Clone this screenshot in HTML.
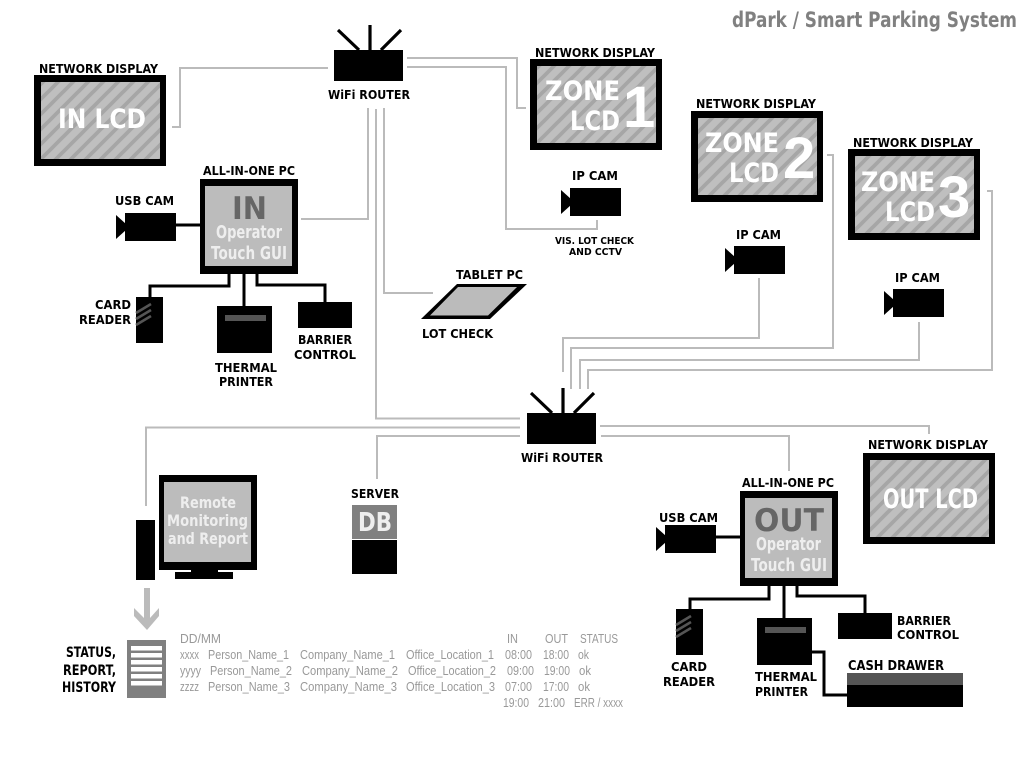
<!DOCTYPE html>
<html><head><meta charset="utf-8"><title>dPark / Smart Parking System</title>
<style>
html,body{margin:0;padding:0;background:#fff;width:1024px;height:768px;overflow:hidden}
svg{display:block}
text{font-family:"DejaVu Sans","Liberation Sans",sans-serif;font-weight:bold}
.l{font-size:12px;fill:#000}
.t{font-family:"Liberation Sans",sans-serif;font-weight:normal;font-size:13px;fill:#999}
.b{font-size:27px;fill:#fff}
.n{font-family:"Liberation Sans",sans-serif;font-size:58px;fill:#fff}
.w{font-size:18px;fill:#eee}
.g{fill:none;stroke:#bbb;stroke-width:2}
.k{fill:none;stroke:#000;stroke-width:3}
</style></head><body>
<svg width="1024" height="768" viewBox="0 0 1024 768" xmlns="http://www.w3.org/2000/svg">
<defs>
<pattern id="s" patternUnits="userSpaceOnUse" width="15" height="15" x="3" y="2">
<rect width="15" height="15" fill="#bfbfbf"/>
<path d="M-4 4L4 -4M-4 19L19 -4M11 19L19 11" stroke="#a6a6a6" stroke-width="3.800"/>
</pattern>
</defs>
<rect width="1024" height="768" fill="#fff"/>

<text x="732" y="27" font-size="21" fill="#808080" textLength="285" lengthAdjust="spacingAndGlyphs">dPark / Smart Parking System</text>

<!-- gray connectors -->
<path class="g" d="M172 127H180V68H328"/>
<path class="g" d="M407 58H517V108H526"/>
<path class="g" d="M407 67H506V229H597V220"/>
<path class="g" d="M301 219H368V108"/>
<path class="g" d="M376 109V418.500H520"/>
<path class="g" d="M384 108V293H433"/>
<path class="g" d="M520 427.500H146V506"/>
<path class="g" d="M520 436H377V479"/>
<path class="g" d="M600 426H929V434"/>
<path class="g" d="M601 436H789V471"/>
<path class="g" d="M759 278V338H563V372"/>
<path class="g" d="M827 155H833V348H571V389"/>
<path class="g" d="M919 322V360H580V389"/>
<path class="g" d="M987 191H992V370H588V389"/>

<!-- routers -->
<rect x="334" y="50" width="69" height="31"/>
<path d="M338 30L359 50M370 25V50M401 30L381 50" stroke="#000" stroke-width="3.200" fill="none"/>
<text class="l" x="328" y="99" textLength="82" lengthAdjust="spacingAndGlyphs">WiFi ROUTER</text>
<rect x="527" y="413" width="69" height="31"/>
<path d="M531 393L552 413M563 388V413M594 393L574 413" stroke="#000" stroke-width="3.200" fill="none"/>
<text class="l" x="521" y="462" textLength="82" lengthAdjust="spacingAndGlyphs">WiFi ROUTER</text>

<!-- displays -->
<rect x="34" y="75" width="132" height="91"/><rect x="41" y="82" width="119" height="77" fill="url(#s)"/>
<text class="l" x="39" y="73" textLength="119" lengthAdjust="spacingAndGlyphs">NETWORK DISPLAY</text>
<text class="b" x="58" y="128" textLength="88" lengthAdjust="spacingAndGlyphs">IN LCD</text>

<rect x="530" y="59" width="132" height="91"/><rect x="537" y="66" width="119" height="77" fill="url(#s)"/>
<text class="l" x="535" y="57" textLength="120" lengthAdjust="spacingAndGlyphs">NETWORK DISPLAY</text>
<text class="b" x="545" y="100" textLength="75" lengthAdjust="spacingAndGlyphs">ZONE</text>
<text class="b" x="570" y="130" textLength="50" lengthAdjust="spacingAndGlyphs">LCD</text>
<text class="n" x="623" y="127">1</text>

<rect x="691" y="111" width="132" height="91"/><rect x="698" y="118" width="119" height="77" fill="url(#s)"/>
<text class="l" x="696" y="108" textLength="120" lengthAdjust="spacingAndGlyphs">NETWORK DISPLAY</text>
<text class="b" x="705" y="152" textLength="74" lengthAdjust="spacingAndGlyphs">ZONE</text>
<text class="b" x="729" y="182" textLength="50" lengthAdjust="spacingAndGlyphs">LCD</text>
<text class="n" x="783" y="178">2</text>

<rect x="848" y="149" width="132" height="91"/><rect x="855" y="156" width="119" height="77" fill="url(#s)"/>
<text class="l" x="853" y="147" textLength="120" lengthAdjust="spacingAndGlyphs">NETWORK DISPLAY</text>
<text class="b" x="861" y="191" textLength="74" lengthAdjust="spacingAndGlyphs">ZONE</text>
<text class="b" x="885" y="221" textLength="50" lengthAdjust="spacingAndGlyphs">LCD</text>
<text class="n" x="938" y="217">3</text>

<rect x="863" y="453" width="132" height="91"/><rect x="870" y="460" width="119" height="77" fill="url(#s)"/>
<text class="l" x="868" y="449" textLength="120" lengthAdjust="spacingAndGlyphs">NETWORK DISPLAY</text>
<text class="b" x="883" y="508" textLength="95" lengthAdjust="spacingAndGlyphs">OUT LCD</text>

<!-- IN station -->
<rect x="200" y="179" width="98" height="95"/><rect x="205" y="186" width="87" height="80" fill="#bcbcbc"/>
<text class="l" x="203" y="175" textLength="92" lengthAdjust="spacingAndGlyphs">ALL-IN-ONE PC</text>
<text x="232" y="219" font-size="31" fill="#666" textLength="35" lengthAdjust="spacingAndGlyphs">IN</text>
<text class="w" x="216" y="238" textLength="66" lengthAdjust="spacingAndGlyphs">Operator</text>
<text class="w" x="211" y="259" textLength="76" lengthAdjust="spacingAndGlyphs">Touch GUI</text>
<rect x="125" y="213" width="51" height="28"/><path d="M116 215L126 224V230L116 239Z"/>
<path class="k" d="M176 225H200"/>
<text class="l" x="115" y="205" textLength="59" lengthAdjust="spacingAndGlyphs">USB CAM</text>
<path class="k" d="M229 274V286H150V297"/>
<path class="k" d="M244 274V306"/>
<path class="k" d="M257 274V285H325V302"/>
<rect x="136" y="297" width="27" height="46"/>
<path d="M136 313L151 304M136 319L151 310M136 325L151 316" stroke="#555" stroke-width="2.600"/>
<text class="l" x="95" y="309" textLength="36" lengthAdjust="spacingAndGlyphs">CARD</text>
<text class="l" x="79" y="324" textLength="52" lengthAdjust="spacingAndGlyphs">READER</text>
<rect x="217" y="306" width="55" height="47"/><rect x="225" y="315" width="41" height="6" fill="#555"/>
<text class="l" x="215" y="372" textLength="62" lengthAdjust="spacingAndGlyphs">THERMAL</text>
<text class="l" x="219" y="386" textLength="54" lengthAdjust="spacingAndGlyphs">PRINTER</text>
<rect x="298" y="302" width="54" height="26"/>
<text class="l" x="298" y="344" textLength="54" lengthAdjust="spacingAndGlyphs">BARRIER</text>
<text class="l" x="294" y="359" textLength="62" lengthAdjust="spacingAndGlyphs">CONTROL</text>

<!-- tablet -->
<path d="M421 319L457 284H527L490 319Z"/>
<path d="M430 315.500L458 287H517L488 315.500Z" fill="#bbb"/>
<text class="l" x="456" y="279" textLength="67" lengthAdjust="spacingAndGlyphs">TABLET PC</text>
<text class="l" x="422" y="338" textLength="71" lengthAdjust="spacingAndGlyphs">LOT CHECK</text>

<!-- IP cams -->
<rect x="570" y="188" width="51" height="28"/><path d="M561 190L571 199V205L561 214Z"/>
<text class="l" x="572" y="180" textLength="46" lengthAdjust="spacingAndGlyphs">IP CAM</text>
<text x="555" y="244" font-size="9.500" textLength="79" lengthAdjust="spacingAndGlyphs">VIS. LOT CHECK</text>
<text x="569" y="255" font-size="9.500" textLength="53" lengthAdjust="spacingAndGlyphs">AND CCTV</text>
<rect x="734" y="246" width="51" height="28"/><path d="M725 248L735 257V263L725 272Z"/>
<text class="l" x="736" y="239" textLength="45" lengthAdjust="spacingAndGlyphs">IP CAM</text>
<rect x="893" y="289" width="51" height="28"/><path d="M884 291L894 300V306L884 315Z"/>
<text class="l" x="895" y="282" textLength="45" lengthAdjust="spacingAndGlyphs">IP CAM</text>

<!-- Remote monitor -->
<rect x="159" y="475" width="98" height="95"/><rect x="164" y="482" width="87" height="80" fill="#bcbcbc"/>
<rect x="191" y="570" width="27" height="3"/><rect x="175" y="572" width="58" height="7"/>
<rect x="136" y="520" width="19" height="60"/>
<text class="w" x="180" y="508" font-size="16" style="font-size:16px" textLength="56" lengthAdjust="spacingAndGlyphs">Remote</text>
<text class="w" x="167" y="526" style="font-size:16px" textLength="81" lengthAdjust="spacingAndGlyphs">Monitoring</text>
<text class="w" x="168" y="544" style="font-size:16px" textLength="80" lengthAdjust="spacingAndGlyphs">and Report</text>

<!-- arrow -->
<path d="M144 588H150V618L159 608V616L147 630L134 616V608L144 618Z" fill="#bbb"/>

<!-- doc -->
<rect x="127" y="640" width="39" height="58" fill="#808080"/>
<g fill="#fff">
<rect x="131" y="646" width="31" height="4.500"/><rect x="131" y="653" width="31" height="4.500"/><rect x="131" y="660" width="31" height="4.500"/><rect x="131" y="667" width="31" height="4.500"/><rect x="131" y="674" width="31" height="4.500"/><rect x="131" y="681" width="31" height="4.500"/>
</g>
<text x="66" y="657" font-size="14" textLength="50" lengthAdjust="spacingAndGlyphs">STATUS,</text>
<text x="63" y="675" font-size="14" textLength="53" lengthAdjust="spacingAndGlyphs">REPORT,</text>
<text x="62" y="692" font-size="14" textLength="54" lengthAdjust="spacingAndGlyphs">HISTORY</text>

<!-- server -->
<text class="l" x="351" y="498" textLength="48" lengthAdjust="spacingAndGlyphs">SERVER</text>
<rect x="352" y="505" width="45" height="34" fill="#808080"/><rect x="352" y="540" width="45" height="34"/>
<text x="358" y="531" font-size="26" fill="#eee" textLength="34" lengthAdjust="spacingAndGlyphs">DB</text>

<!-- table -->
<text class="t" x="180" y="643" textLength="41" lengthAdjust="spacingAndGlyphs">DD/MM</text>
<text class="t" x="507" y="643" textLength="11" lengthAdjust="spacingAndGlyphs">IN</text>
<text class="t" x="545" y="643" textLength="23" lengthAdjust="spacingAndGlyphs">OUT</text>
<text class="t" x="580" y="643" textLength="38" lengthAdjust="spacingAndGlyphs">STATUS</text>

<text class="t" x="180" y="659" textLength="19" lengthAdjust="spacingAndGlyphs">xxxx</text>
<text class="t" x="208" y="659" textLength="81" lengthAdjust="spacingAndGlyphs">Person_Name_1</text>
<text class="t" x="300" y="659" textLength="95" lengthAdjust="spacingAndGlyphs">Company_Name_1</text>
<text class="t" x="406" y="659" textLength="88" lengthAdjust="spacingAndGlyphs">Office_Location_1</text>
<text class="t" x="505" y="659" textLength="27" lengthAdjust="spacingAndGlyphs">08:00</text>
<text class="t" x="543" y="659" textLength="26" lengthAdjust="spacingAndGlyphs">18:00</text>
<text class="t" x="578" y="659" textLength="11" lengthAdjust="spacingAndGlyphs">ok</text>

<text class="t" x="180" y="675" textLength="21" lengthAdjust="spacingAndGlyphs">yyyy</text>
<text class="t" x="210" y="675" textLength="82" lengthAdjust="spacingAndGlyphs">Person_Name_2</text>
<text class="t" x="302" y="675" textLength="96" lengthAdjust="spacingAndGlyphs">Company_Name_2</text>
<text class="t" x="408" y="675" textLength="88" lengthAdjust="spacingAndGlyphs">Office_Location_2</text>
<text class="t" x="507" y="675" textLength="27" lengthAdjust="spacingAndGlyphs">09:00</text>
<text class="t" x="544" y="675" textLength="26" lengthAdjust="spacingAndGlyphs">19:00</text>
<text class="t" x="579" y="675" textLength="12" lengthAdjust="spacingAndGlyphs">ok</text>

<text class="t" x="180" y="691" textLength="19" lengthAdjust="spacingAndGlyphs">zzzz</text>
<text class="t" x="208" y="691" textLength="82" lengthAdjust="spacingAndGlyphs">Person_Name_3</text>
<text class="t" x="300" y="691" textLength="97" lengthAdjust="spacingAndGlyphs">Company_Name_3</text>
<text class="t" x="406" y="691" textLength="89" lengthAdjust="spacingAndGlyphs">Office_Location_3</text>
<text class="t" x="505" y="691" textLength="27" lengthAdjust="spacingAndGlyphs">07:00</text>
<text class="t" x="543" y="691" textLength="26" lengthAdjust="spacingAndGlyphs">17:00</text>
<text class="t" x="578" y="691" textLength="12" lengthAdjust="spacingAndGlyphs">ok</text>

<text class="t" x="503" y="707" textLength="26" lengthAdjust="spacingAndGlyphs">19:00</text>
<text class="t" x="538" y="707" textLength="27" lengthAdjust="spacingAndGlyphs">21:00</text>
<text class="t" x="574" y="707" textLength="49" lengthAdjust="spacingAndGlyphs">ERR / xxxx</text>

<!-- OUT station -->
<rect x="740" y="491" width="98" height="95"/><rect x="745" y="498" width="87" height="80" fill="#bcbcbc"/>
<text class="l" x="742" y="487" textLength="92" lengthAdjust="spacingAndGlyphs">ALL-IN-ONE PC</text>
<text x="754" y="531" font-size="31" fill="#666" textLength="70" lengthAdjust="spacingAndGlyphs">OUT</text>
<text class="w" x="756" y="550" textLength="65" lengthAdjust="spacingAndGlyphs">Operator</text>
<text class="w" x="751" y="571" textLength="76" lengthAdjust="spacingAndGlyphs">Touch GUI</text>
<rect x="665" y="525" width="51" height="28"/><path d="M656 527L666 536V542L656 551Z"/>
<path class="k" d="M716 537H740"/>
<text class="l" x="659" y="522" textLength="59" lengthAdjust="spacingAndGlyphs">USB CAM</text>
<path class="k" d="M769 586V599H690V609"/>
<path class="k" d="M784 586V618"/>
<path class="k" d="M797 586V596H865V613"/>
<rect x="676" y="609" width="27" height="46"/>
<path d="M676 625L691 616M676 631L691 622M676 637L691 628" stroke="#555" stroke-width="2.600"/>
<text class="l" x="671" y="671" textLength="36" lengthAdjust="spacingAndGlyphs">CARD</text>
<text class="l" x="663" y="686" textLength="52" lengthAdjust="spacingAndGlyphs">READER</text>
<rect x="757" y="618" width="55" height="47"/><rect x="765" y="627" width="41" height="6" fill="#555"/>
<text class="l" x="755" y="681" textLength="62" lengthAdjust="spacingAndGlyphs">THERMAL</text>
<text class="l" x="755" y="696" textLength="53" lengthAdjust="spacingAndGlyphs">PRINTER</text>
<rect x="838" y="613" width="54" height="26"/>
<text class="l" x="897" y="625" textLength="54" lengthAdjust="spacingAndGlyphs">BARRIER</text>
<text class="l" x="897" y="639" textLength="62" lengthAdjust="spacingAndGlyphs">CONTROL</text>
<path class="k" d="M812 652H824V695H847"/>
<rect x="847" y="673" width="116" height="12" fill="#555"/><rect x="847" y="685" width="116" height="22"/>
<text x="848" y="670" font-size="13" textLength="96" lengthAdjust="spacingAndGlyphs">CASH DRAWER</text>
</svg>
</body></html>
